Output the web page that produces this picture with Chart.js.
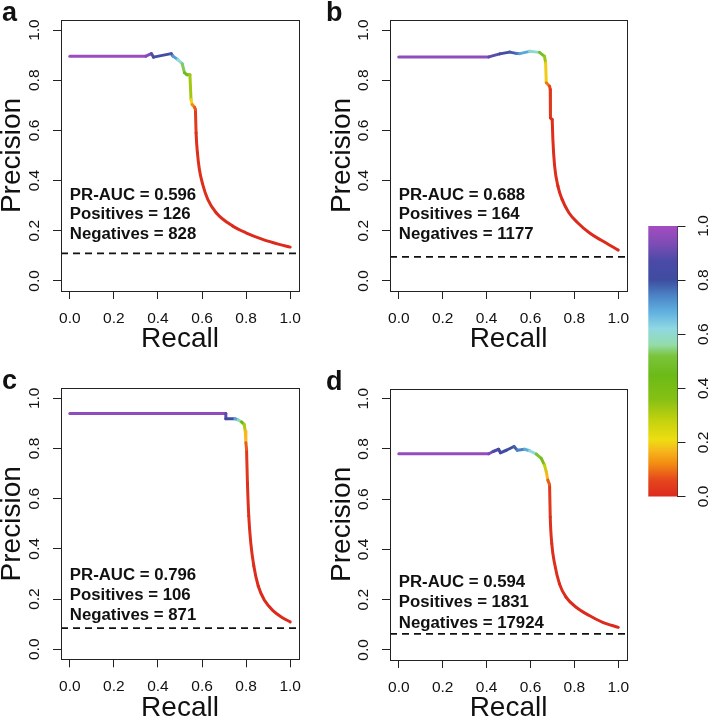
<!DOCTYPE html>
<html>
<head>
<meta charset="utf-8">
<script src="https://cdn.jsdelivr.net/npm/chart.js@4.4.1/dist/chart.umd.min.js"></script>
<style>
html,body{margin:0;padding:0;background:#fff;overflow:hidden;}
#wrap{position:relative;width:709px;height:718px;background:#fff;}
#wrap canvas{position:absolute;}
</style>
</head>
<body>
<div id="wrap"></div>
<script>
// ---------------- data ----------------
const xTicks = [0, 0.2, 0.4, 0.6, 0.8, 1.0];
const yTicks = [0, 0.2, 0.4, 0.6, 0.8, 1.0];
const barTicks = [0, 0.2, 0.4, 0.6, 0.8, 1.0];

const panelLetters = ['a', 'b', 'c', 'd'];
const aucValues = [0.596, 0.688, 0.796, 0.594];
const positives = [126, 164, 106, 1831];
const negatives = [828, 1177, 871, 17924];
const baselines = [0.110, 0.096, 0.084, 0.064];

const recallA    = [0, 0.345, 0.37, 0.38, 0.46, 0.468, 0.49, 0.51, 0.52, 0.531, 0.545, 0.55, 0.555, 0.566, 0.57, 0.573, 0.579, 0.588, 0.603, 0.626, 0.664, 0.739, 0.799, 0.875, 0.95, 1.0];
const precisionA = [0.896, 0.896, 0.906, 0.892, 0.906, 0.896, 0.882, 0.866, 0.83, 0.822, 0.822, 0.723, 0.703, 0.692, 0.683, 0.59, 0.511, 0.444, 0.385, 0.325, 0.272, 0.219, 0.192, 0.166, 0.146, 0.135];
const thresholdA = [1.0, 0.97, 0.92, 0.86, 0.8, 0.76, 0.66, 0.58, 0.48, 0.44, 0.4, 0.25, 0.14, 0.1, 0.05, 0.02, 0.01, 0.01, 0.01, 0.01, 0.01, 0.0, 0.0, 0.0, 0.0, 0.0];

const recallB    = [0, 0.41, 0.46, 0.505, 0.535, 0.551, 0.596, 0.641, 0.664, 0.669, 0.672, 0.687, 0.69, 0.691, 0.699, 0.702, 0.710, 0.725, 0.744, 0.775, 0.815, 0.868, 0.921, 1.0];
const precisionB = [0.893, 0.893, 0.905, 0.912, 0.907, 0.906, 0.915, 0.911, 0.895, 0.869, 0.79, 0.776, 0.763, 0.65, 0.643, 0.564, 0.458, 0.378, 0.325, 0.272, 0.232, 0.192, 0.163, 0.123];
const thresholdB = [1.0, 0.93, 0.85, 0.8, 0.77, 0.74, 0.65, 0.55, 0.42, 0.25, 0.13, 0.08, 0.04, 0.02, 0.01, 0.01, 0.01, 0.01, 0.0, 0.0, 0.0, 0.0, 0.0, 0.0];

const recallC    = [0, 0.708, 0.708, 0.749, 0.764, 0.779, 0.791, 0.796, 0.799, 0.802, 0.806, 0.812, 0.821, 0.835, 0.855, 0.885, 0.923, 0.965, 1.0];
const precisionC = [0.940, 0.940, 0.919, 0.919, 0.914, 0.906, 0.896, 0.870, 0.823, 0.797, 0.664, 0.531, 0.425, 0.332, 0.252, 0.193, 0.153, 0.126, 0.109];
const thresholdC = [1.0, 0.93, 0.85, 0.75, 0.65, 0.5, 0.4, 0.22, 0.12, 0.04, 0.02, 0.01, 0.01, 0.01, 0.0, 0.0, 0.0, 0.0, 0.0];

const recallD    = [0, 0.41, 0.43, 0.455, 0.463, 0.49, 0.525, 0.54, 0.573, 0.596, 0.626, 0.649, 0.664, 0.672, 0.679, 0.687, 0.69, 0.697, 0.71, 0.732, 0.762, 0.808, 0.868, 0.929, 1.0];
const precisionD = [0.781, 0.781, 0.79, 0.799, 0.785, 0.795, 0.81, 0.795, 0.799, 0.793, 0.78, 0.763, 0.736, 0.709, 0.676, 0.658, 0.529, 0.423, 0.343, 0.263, 0.210, 0.170, 0.137, 0.110, 0.090];
const thresholdD = [1.0, 0.95, 0.9, 0.85, 0.83, 0.81, 0.79, 0.77, 0.72, 0.66, 0.58, 0.45, 0.35, 0.22, 0.12, 0.04, 0.02, 0.01, 0.01, 0.01, 0.0, 0.0, 0.0, 0.0, 0.0];

// colour scale (value -> colour) of the colour bar
const paletteValues = [0.00, 0.06, 0.12, 0.17, 0.21, 0.28, 0.36, 0.45, 0.52, 0.56, 0.62, 0.68, 0.74, 0.80, 0.87, 0.93, 1.00];
const paletteColors = ['#DC2A1C', '#E5461E', '#F28B12', '#F6B81C', '#EEDD12', '#C4D20E', '#86C014', '#6BBA18', '#7AC43C', '#94DCA8', '#90D8E2', '#62B2E0', '#4C86C8', '#3E4DA0', '#4B4AA6', '#7A4CB4', '#A44CC2'];

// ---------------- helpers ----------------
const FAMILY = '"Liberation Sans", Arial, Helvetica, sans-serif';
function hexToRgb(h){ const n=parseInt(h.slice(1),16); return [(n>>16)&255,(n>>8)&255,n&255]; }
const palRgb = paletteColors.map(hexToRgb);
function pal(v){
  v = Math.max(0, Math.min(1, v));
  for (let i=0;i<paletteValues.length-1;i++){
    if (v <= paletteValues[i+1]) {
      const t = (v - paletteValues[i])/(paletteValues[i+1]-paletteValues[i]);
      const a = palRgb[i], b = palRgb[i+1];
      return 'rgb(' + a.map((c,k)=>Math.round(c+(b[k]-c)*t)).join(',') + ')';
    }
  }
  return paletteColors[paletteColors.length-1];
}
const fmt1 = v => Number(v).toFixed(1);

const wrap = document.getElementById('wrap');
function makeCanvas(left, top, w, h){
  const c = document.createElement('canvas');
  c.width = w; c.height = h;
  c.style.left = left+'px'; c.style.top = top+'px';
  c.style.width = w+'px'; c.style.height = h+'px';
  wrap.appendChild(c);
  return c;
}

const decorPlugin = {
  id: 'decor',
  afterDraw(chart, args, o){
    const {ctx, chartArea:{left,top,right,bottom}} = chart;
    const xs = chart.scales.x, ys = chart.scales.y;
    ctx.save();
    ctx.strokeStyle = '#222'; ctx.lineWidth = 1;
    ctx.strokeRect(Math.round(left)+0.5, Math.round(top)+0.5, Math.round(right)-Math.round(left), Math.round(bottom)-Math.round(top));
    ctx.fillStyle = '#111';
    ctx.font = 'bold 16.8px ' + FAMILY;
    ctx.textAlign = 'left'; ctx.textBaseline = 'middle';
    o.lines.forEach((t,i)=> ctx.fillText(t, xs.getPixelForValue(0), ys.getPixelForValue(o.textY[i])));
    ctx.font = 'bold 27px ' + FAMILY;
    ctx.textBaseline = 'alphabetic';
    ctx.fillText(o.letter, o.letterX, o.letterY);
    ctx.restore();
  }
};

const panels = [
  {left:0,   top:0,   w:330, h:355, padL:0, area:{l:61, t:20,   r:299, b:291}, xlh:1.1,  textY:[0.341,0.265,0.187], letterX:2, letterY:21, tail:14,
   recall:recallA, precision:precisionA, threshold:thresholdA},
  {left:322, top:0,   w:318, h:355, padL:8, area:{l:68, t:20,   r:306, b:291}, xlh:1.1,  textY:[0.341,0.265,0.187], letterX:4, letterY:21, tail:14,
   recall:recallB, precision:precisionB, threshold:thresholdB},
  {left:0,   top:355, w:330, h:363, padL:0, area:{l:61, t:33.3, r:299, b:304.3}, xlh:0.72, textY:[0.296,0.216,0.136], letterX:2, letterY:34, tail:9,
   recall:recallC, precision:precisionC, threshold:thresholdC},
  {left:322, top:355, w:318, h:363, padL:8, area:{l:68, t:33.7, r:306, b:305}, xlh:0.72, textY:[0.270,0.188,0.107], letterX:4, letterY:35, tail:15,
   recall:recallD, precision:precisionD, threshold:thresholdD}
];

const tickFont = {size:15.5, family:FAMILY};
const gridOpts = {display:true, drawOnChartArea:false, drawTicks:true, tickLength:8, color:'#222', lineWidth:1};

function curveDataset(rec, prec, thr, smooth){
  return {
    data: rec.map((r,i)=>({x:r, y:prec[i]})), showLine: true, pointRadius: 0, borderWidth: 3,
    borderColor: pal(thr[0]), borderCapStyle: 'round', borderJoinStyle: 'round',
    cubicInterpolationMode: smooth ? 'monotone' : 'default', tension: 0,
    segment: { borderColor: c => pal((thr[c.p0DataIndex] + thr[c.p1DataIndex]) / 2) }
  };
}

panels.forEach((p, k) => {
  const cv = makeCanvas(p.left, p.top, p.w, p.h);
  const s = p.tail;
  new Chart(cv.getContext('2d'), {
    type: 'scatter',
    data: {
      datasets: [
        curveDataset(p.recall.slice(0, s+1), p.precision.slice(0, s+1), p.threshold.slice(0, s+1), false),
        curveDataset(p.recall.slice(s), p.precision.slice(s), p.threshold.slice(s), true),
        {
          data: [{x:-0.04, y:baselines[k]}, {x:1.04, y:baselines[k]}],
          showLine: true, pointRadius: 0, borderWidth: 1.8, borderColor: '#111', borderDash: [7,5]
        }
      ]
    },
    options: {
      animation: false, responsive: false, events: [],
      layout: {padding: {left: p.padL, top: p.area.t, right: p.w - p.area.r, bottom: 0}},
      plugins: {
        legend: {display:false}, tooltip: {enabled:false},
        decor: {
          letter: panelLetters[k], letterX: p.letterX, letterY: p.letterY, textY: p.textY,
          lines: ['PR-AUC = ' + aucValues[k].toFixed(3), 'Positives = ' + positives[k], 'Negatives = ' + negatives[k]]
        }
      },
      scales: {
        x: {
          type:'linear', bounds:'data', min:-0.04, max:1.04,
          afterBuildTicks: sc => { sc.ticks = xTicks.map(v=>({value:v})); },
          afterFit: sc => { sc.height = p.h - p.area.b; },
          grid: gridOpts, border: {display:false},
          ticks: {font:tickFont, color:'#111', padding:10.5, autoSkip:false, minRotation:0, maxRotation:0, callback: fmt1},
          title: {display:true, text:'Recall', color:'#111', padding:0, font:{size:28, family:FAMILY, lineHeight:p.xlh}}
        },
        y: {
          type:'linear', bounds:'data', min:-0.04, max:1.04,
          afterBuildTicks: sc => { sc.ticks = yTicks.map(v=>({value:v})); },
          afterFit: sc => { sc.width = p.area.l - p.padL; },
          grid: gridOpts, border: {display:false},
          ticks: {font:tickFont, color:'#111', padding:7.3, autoSkip:false, minRotation:90, maxRotation:90, crossAlign:'center', callback: fmt1},
          title: {display:true, text:'Precision', color:'#111', padding:0, font:{size:28, family:FAMILY, lineHeight:0.9}}
        }
      }
    },
    plugins: [decorPlugin]
  });
});

// ---------------- colour bar ----------------
const gradPlugin = {
  id: 'grad',
  beforeDatasetsDraw(chart){
    const {ctx, chartArea:{left,right}} = chart;
    const ys = chart.scales.y;
    const y0 = ys.getPixelForValue(0), y1 = ys.getPixelForValue(1);
    const g = ctx.createLinearGradient(0, y0, 0, y1);
    paletteValues.forEach((v,i)=> g.addColorStop(v, paletteColors[i]));
    ctx.save(); ctx.fillStyle = g;
    ctx.fillRect(left, y1, right-left, y0-y1);
    ctx.restore();
  }
};
const barCanvas = makeCanvas(640, 200, 69, 320);
new Chart(barCanvas.getContext('2d'), {
  type: 'scatter',
  data: {datasets: []},
  options: {
    animation:false, responsive:false, events:[],
    layout: {padding: {left:8.3, top:26, right:0, bottom:23.5}},
    plugins: {legend:{display:false}, tooltip:{enabled:false}},
    scales: {
      x: {display:false, min:0, max:1},
      y: {
        position:'right', type:'linear', bounds:'data', min:0, max:1,
        afterBuildTicks: sc => { sc.ticks = barTicks.map(v=>({value:v})); },
        afterFit: sc => { sc.width = 31.5; },
        grid: gridOpts, border: {display:true, color:'#222', width:1},
        ticks: {font:tickFont, color:'#111', padding:7.3, autoSkip:false, minRotation:90, maxRotation:90, crossAlign:'center', callback: fmt1}
      }
    }
  },
  plugins: [gradPlugin]
});
</script>
</body>
</html>
